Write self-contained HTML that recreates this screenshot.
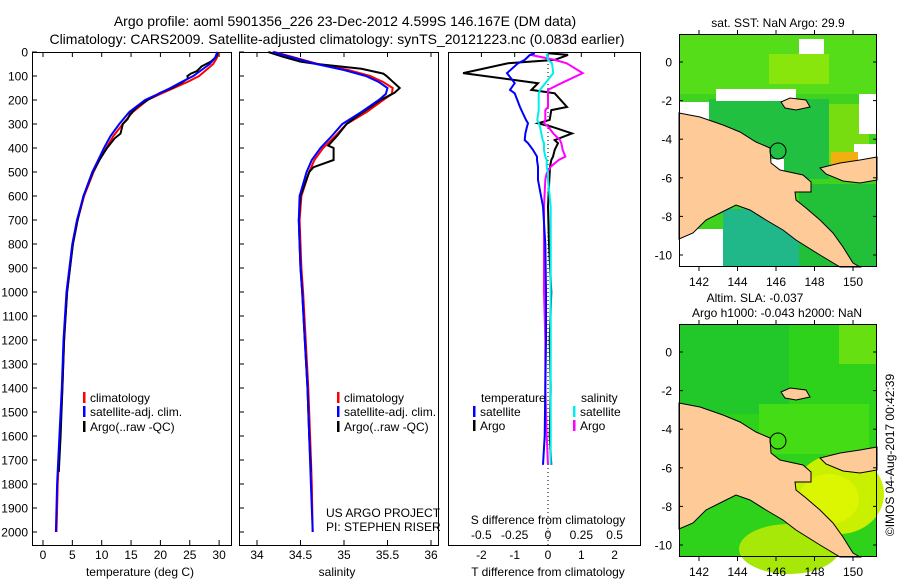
<!DOCTYPE html>
<html><head><meta charset="utf-8"><style>
body{margin:0;background:#fff;}
svg{display:block;font-family:"Liberation Sans",sans-serif;}
</style></head><body>
<svg id="fig" width="900" height="580" viewBox="0 0 900 580">
<g id="g"></g>
</svg>
<script>
// ---------- data ----------
const climDepth=[0,25,50,75,100,125,150,175,200,250,300,350,400,450,500,600,700,800,900,1000,1200,1400,1600,1800,2000];
const climTemp=[29.9,29.6,29.0,27.8,26.6,24.6,22.3,20.0,17.8,15.3,13.6,12.0,10.8,9.6,8.6,7.0,5.9,5.1,4.6,4.1,3.6,3.3,2.9,2.5,2.3];
const satTemp=[29.7,29.3,28.4,27.0,25.6,23.6,21.7,19.6,17.4,14.7,13.0,11.5,10.4,9.4,8.4,6.9,5.8,5.0,4.5,4.0,3.5,3.2,2.8,2.4,2.2];
const argoDepth=[0,20,40,60,80,90,100,110,130,150,170,200,230,260,280,300,320,340,360,400,450,500,600,700,800,900,1000,1200,1400,1600,1750];
const argoTemp=[29.8,29.5,28.6,27.0,26.2,25.2,24.6,24.7,23.5,22.0,20.0,17.8,16.0,14.8,14.4,13.6,13.4,13.2,12.2,10.9,9.6,8.5,6.9,5.9,5.1,4.6,4.1,3.6,3.3,3.0,2.7];
const climSal=[34.2,34.45,34.7,35.05,35.3,35.45,35.56,35.55,35.45,35.26,35.03,34.9,34.76,34.66,34.6,34.51,34.49,34.5,34.51,34.53,34.56,34.59,34.61,34.63,34.64];
const satSal=[34.18,34.43,34.68,35.0,35.25,35.4,35.5,35.48,35.4,35.2,34.98,34.86,34.73,34.63,34.57,34.49,34.48,34.49,34.5,34.52,34.55,34.58,34.6,34.62,34.64];
const argoSalDepth=[0,20,40,50,70,90,100,120,150,170,200,250,300,350,390,400,450,480,500,600,700,800,900,1000,1200,1400,1600,1750];
const argoSal=[34.13,34.3,34.5,34.69,35.2,35.45,35.49,35.55,35.64,35.58,35.42,35.22,35.03,34.92,34.82,34.88,34.88,34.65,34.6,34.5,34.48,34.49,34.5,34.52,34.55,34.58,34.6,34.62];
const diffDepth=[5,12,33,47,88,130,158,172,229,242,283,297,311,339,367,380,408,436,450,478,505,533,644,800,1000,1200,1400,1600,1720];
const dTsat=[-0.4,-0.54,-0.7,-0.9,-1.23,-1.0,-1.14,-1.0,-0.84,-0.8,-0.66,-0.6,-0.63,-0.68,-0.7,-0.6,-0.45,-0.33,-0.33,-0.3,-0.3,-0.3,-0.15,-0.08,-0.06,-0.06,-0.08,-0.1,-0.15];
const dTargo=[0,0.6,0.2,-1.2,-2.55,-0.3,-0.5,0.2,0.57,0.1,0.05,-0.3,0.1,0.72,0.2,0.3,0.2,0.15,0.1,0.06,0.05,0.04,0.0,0.03,0.1,0.05,0.08,0.05,0.1];
const dSsat=[0.0,-0.01,0.0,0.03,0.04,-0.02,-0.06,-0.07,-0.07,-0.07,-0.08,-0.07,-0.06,-0.05,-0.04,-0.03,-0.03,-0.02,-0.01,-0.01,0.0,0.0,0.02,0.02,0.02,0.02,0.02,0.02,0.02];
const dSargo=[-0.1,-0.13,0.05,0.14,0.26,0.1,0.0,0.0,0.0,-0.02,-0.02,-0.03,0.0,0.04,0.09,0.1,0.11,0.13,0.08,0.02,-0.01,-0.02,-0.03,-0.03,-0.03,-0.02,-0.02,-0.01,0.0];
const depthTicks=[0,100,200,300,400,500,600,700,800,900,1000,1100,1200,1300,1400,1500,1600,1700,1800,1900,2000];
const tempTicks=[0,5,10,15,20,25,30];
const salTicks=[34,34.5,35,35.5,36];
const tDiffTicks=[-2,-1,0,1,2];
const sDiffTicks=[-0.5,-0.25,0,0.25,0.5];
const sDiffLabels=["-0.5","-0.25","0","0.25","0.5"];
const latTicks=[0,-2,-4,-6,-8,-10];
const lonTicks=[142,144,146,148,150];

// ---------- helpers ----------
const NS="http://www.w3.org/2000/svg";
const G=document.getElementById('g');
function mk(tag,attrs,parent){const e=document.createElementNS(NS,tag);for(const k in attrs)e.setAttribute(k,attrs[k]);(parent||G).appendChild(e);return e;}
function txt(x,y,s,anchor,size,parent){const t=mk('text',{x:x,y:y,'text-anchor':anchor||'start','font-size':size||13,fill:'#000'},parent);t.textContent=s;return t;}
const yD=d=>52+d*0.24;
const xT=t=>43+t*5.87;
const xS=s=>257+(s-34)*87;
const xdT=v=>548+v*33.3;
const xdS=v=>548+v*133.3;
function line(xs,ds,xf,color,name){
  const p=xs.map((v,i)=>xf(v).toFixed(1)+','+yD(ds[i]).toFixed(1)).join(' ');
  const l=mk('polyline',{points:p,fill:'none',stroke:color,'stroke-width':2});
  
  
}
function frame(x0,x1,name){
  const r=mk('rect',{x:x0+0.5,y:52.5,width:x1-x0,height:493,fill:'none',stroke:'#000','stroke-width':1});
  
  
}

// titles
let t1=txt(345,26,"Argo profile: aoml 5901356_226 23-Dec-2012 4.599S 146.167E (DM data)",'middle',14);


let t2=txt(337,44,"Climatology: CARS2009. Satellite-adjusted climatology: synTS_20121223.nc (0.083d earlier)",'middle',14);



// frames
frame(32,231,'temperature-panel');
frame(239,438,'salinity-panel');
frame(448,640,'difference-panel');

// depth ticks
depthTicks.forEach(d=>{
  const y=yD(d);
  mk('line',{x1:32,x2:37,y1:y,y2:y,stroke:'#000'});
  mk('line',{x1:239,x2:244,y1:y,y2:y,stroke:'#000'});
  const l=txt(28,y+4.5,String(d),'end',12);
  
  
});
tempTicks.forEach(v=>{const x=xT(v);mk('line',{x1:x,x2:x,y1:52,y2:57,stroke:'#000'});mk('line',{x1:x,x2:x,y1:545,y2:540,stroke:'#000'});
  const l=txt(x,559,String(v),'middle',12);
  
  });
salTicks.forEach(v=>{const x=xS(v);mk('line',{x1:x,x2:x,y1:52,y2:57,stroke:'#000'});mk('line',{x1:x,x2:x,y1:545,y2:540,stroke:'#000'});
  const l=txt(x,559,String(v),'middle',12);
  
  });
tDiffTicks.forEach(v=>{const x=xdT(v);mk('line',{x1:x,x2:x,y1:52,y2:57,stroke:'#000'});
  const l=txt(x,559,String(v),'middle',12);
  
  });
sDiffTicks.forEach((v,i)=>{const x=xdS(v);
  const l=txt(x,539,sDiffLabels[i],'middle',12);
  
  });
let a1=txt(140,576,"temperature (deg C)",'middle',12);
let a2=txt(337,576,"salinity",'middle',12);
let a3=txt(548,576,"T difference from climatology",'middle',12);
let a4=txt(548,524,"S difference from climatology",'middle',12);

// zero dotted line
mk('line',{x1:548,x2:548,y1:52,y2:545,stroke:'#000','stroke-dasharray':'1,3'});

// series
line(climTemp,climDepth,xT,'#f00','temp-climatology-line');
line(argoTemp,argoDepth,xT,'#000','temp-argo-line');
line(satTemp,climDepth,xT,'#00f','temp-satellite-line');
line(climSal,climDepth,xS,'#f00','sal-climatology-line');
line(argoSal,argoSalDepth,xS,'#000','sal-argo-line');
line(satSal,climDepth,xS,'#00f','sal-satellite-line');
line(dTargo,diffDepth,xdT,'#000','t-diff-argo-line');
line(dSargo,diffDepth,xdS,'#f0f','s-diff-argo-line');
line(dTsat,diffDepth,xdT,'#00f','t-diff-satellite-line');
line(dSsat,diffDepth,xdS,'#0ee','s-diff-satellite-line');

// legends
function leg(x,y,color,label,name){
  mk('rect',{x:x,y:y-10,width:2.5,height:11,fill:color});
  const t=txt(x+7,y,label,'start',12);
  
  
}
leg(83,402,'#f00','climatology','legend-climatology');
leg(83,416,'#00f','satellite-adj. clim.','legend-satellite');
leg(83,431,'#000','Argo(..raw -QC)','legend-argo');
leg(337,402,'#f00','climatology','legend2-climatology');
leg(337,416,'#00f','satellite-adj. clim.','legend2-satellite');
leg(337,431,'#000','Argo(..raw -QC)','legend2-argo');
let lt=txt(481,402,'temperature','start',12);
let ls=txt(581,402,'salinity','start',12);
leg(473,416,'#00f','satellite','legend-t-satellite');
leg(473,430,'#000','Argo','legend-t-argo');
leg(573,416,'#0ee','satellite','legend-s-satellite');
leg(573,430,'#f0f','Argo','legend-s-argo');
let pr1=txt(326,517,'US ARGO PROJECT','start',12);
let pr2=txt(326,531,'PI: STEPHEN RISER','start',12);

// ---------- maps ----------
const land="0,79 21,83 44,91 61,98 77,108 91,114 92,129 101,136 124,141 132,148 132,158 116,158 117,166 127,174 141,186 154,199 164,213 174,229 181,233 161,233 141,221 117,206 104,196 87,186 71,176 57,171 47,176 27,186 14,199 0,205";
const nb="141,134 161,129 181,126 198,123 198,146 181,149 164,147 147,140";
const isl="102,68 111,64 127,66 131,73 117,76 106,74";
function map(oy,name,sst){
  const g=mk('g',{transform:'translate(679,'+oy+')'});
  
  
  if(sst){
    mk('rect',{x:0,y:0,width:198,height:233,fill:'#3fd21e'},g);
    mk('rect',{x:0,y:0,width:198,height:60,fill:'#55dd1a'},g);
    mk('rect',{x:90,y:20,width:60,height:30,fill:'#88e60c'},g);
    mk('rect',{x:120,y:70,width:70,height:60,fill:'#77dd10'},g);
    mk('rect',{x:30,y:65,width:120,height:80,fill:'#22c040'},g);
    mk('rect',{x:0,y:68,width:30,height:20,fill:'#fff'},g);
    mk('rect',{x:37,y:55,width:80,height:12,fill:'#fff'},g);
    mk('rect',{x:120,y:5,width:25,height:15,fill:'#fff'},g);
    mk('rect',{x:180,y:60,width:18,height:40,fill:'#fff'},g);
    mk('rect',{x:175,y:110,width:23,height:35,fill:'#fff'},g);
    mk('rect',{x:90,y:125,width:15,height:25,fill:'#fff'},g);
    mk('rect',{x:152,y:118,width:27,height:15,fill:'#f2b010'},g);
    mk('rect',{x:0,y:195,width:48,height:38,fill:'#fff'},g);
    mk('rect',{x:44,y:175,width:115,height:58,fill:'#20b888'},g);
    mk('rect',{x:120,y:150,width:78,height:83,fill:'#22c038'},g);
  } else {
    mk('rect',{x:0,y:0,width:198,height:233,fill:'#2ed21a'},g);
    mk('rect',{x:0,y:0,width:110,height:90,fill:'#22c82a'},g);
    mk('rect',{x:80,y:80,width:110,height:50,fill:'#44dc14'},g);
    mk('ellipse',{cx:160,cy:170,rx:45,ry:40,fill:'#c8f000'},g);
    mk('ellipse',{cx:150,cy:175,rx:30,ry:25,fill:'#dcf500'},g);
    mk('ellipse',{cx:110,cy:225,rx:50,ry:25,fill:'#a8e808'},g);
    mk('rect',{x:160,y:0,width:38,height:40,fill:'#66e010'},g);
  }
  mk('polygon',{points:land,fill:'#fdca98',stroke:'#000','stroke-width':1},g);
  mk('polygon',{points:nb,fill:'#fdca98',stroke:'#000','stroke-width':1},g);
  mk('polygon',{points:isl,fill:'#fdca98',stroke:'#000','stroke-width':1},g);
  mk('circle',{cx:99,cy:117,r:8,fill:'none',stroke:'#000'},g);
  mk('rect',{x:0.5,y:0.5,width:197,height:232,fill:'none',stroke:'#000'},g);
  latTicks.forEach(v=>{const y=28+(-v)*19.3;
    mk('line',{x1:0,x2:4,y1:y,y2:y,stroke:'#000'},g);mk('line',{x1:198,x2:194,y1:y,y2:y,stroke:'#000'},g);
    const l=txt(-7,y+4.5,String(v),'end',12,g);
    
    });
  lonTicks.forEach(v=>{const x=20+(v-142)*19.25;
    mk('line',{x1:x,x2:x,y1:0,y2:-4,stroke:'#000'},g);mk('line',{x1:x,x2:x,y1:233,y2:237,stroke:'#000'},g);
    const l=txt(x,252,String(v),'middle',12,g);
    
    });
}
map(34,'sst-map',true);
map(324,'sla-map',false);
let m1=txt(778,27,'sat. SST: NaN Argo: 29.9','middle',12);
let m2=txt(755,302,'Altim. SLA: -0.037','middle',12);
let m3=txt(777,317,'Argo h1000: -0.043 h2000: NaN','middle',12);
let cp=txt(0,0,'©IMOS 04-Aug-2017 00:42:39','middle',12);
cp.setAttribute('transform','translate(894,455) rotate(-90)');


</script>
</body></html>
